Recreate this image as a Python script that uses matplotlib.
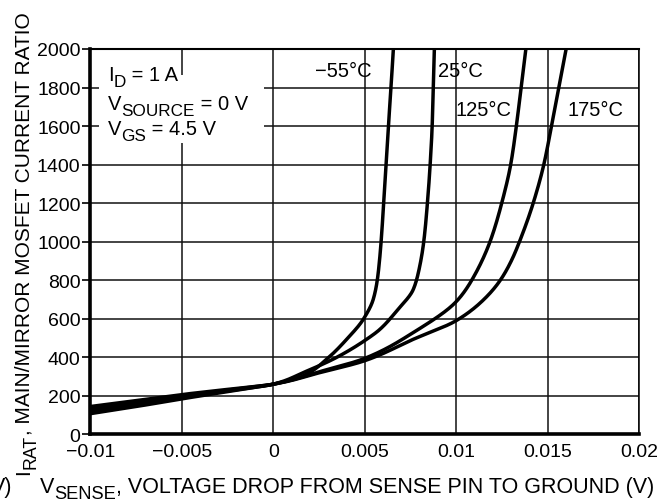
import matplotlib
matplotlib.use("Agg")
import numpy as np
import matplotlib.pyplot as plt
from matplotlib.patches import Rectangle
from matplotlib.transforms import IdentityTransform

plt.rcParams['font.family'] = ['Liberation Sans', 'DejaVu Sans']

# ---- data ----
x_m55 = [-0.01, -0.0075, -0.005, -0.0025, 0, 0.00164, 0.00292, 0.00401, 0.00492, 0.00546,
         0.00568, 0.0058, 0.00589, 0.00603, 0.00616, 0.00629, 0.00643, 0.00656]
y_m55 = [108, 145, 185, 222, 261, 304, 391, 494, 598, 701,
         800, 900, 1000, 1200, 1400, 1600, 1800, 2000]

x_25 = [-0.01, -0.0075, -0.005, -0.0025, 0, 0.00173, 0.00346, 0.0051, 0.00583, 0.00674,
        0.00765, 0.00795, 0.00822, 0.00842, 0.00857, 0.00868, 0.00874, 0.0088]
y_25 = [120, 155, 193, 226, 261, 325, 400, 494, 546, 641,
        753, 850, 1000, 1200, 1400, 1600, 1800, 2000]

x_125 = [-0.01, -0.0075, -0.005, -0.0025, 0, 0.0025, 0.005, 0.00765, 0.01, 0.01084,
         0.01184, 0.01248, 0.01297, 0.01328, 0.01354, 0.0138]
y_125 = [132, 166, 200, 230, 261, 325, 395, 529, 690, 800,
         1000, 1200, 1400, 1600, 1800, 2000]

x_175 = [-0.01, -0.0075, -0.005, -0.0025, 0, 0.0025, 0.005, 0.00765, 0.01, 0.0115,
         0.0124, 0.0130, 0.01345, 0.0142, 0.01478, 0.0152, 0.0156, 0.016]
y_175 = [145, 176, 207, 234, 261, 320, 383, 494, 591, 700,
         800, 900, 1000, 1200, 1400, 1600, 1800, 2000]

x_ticks = [-0.01, -0.005, 0, 0.005, 0.01, 0.015, 0.02]
x_ticklabels = ['\u22120.01', '\u22120.005', '0', '0.005', '0.01', '0.015', '0.02']
y_ticks = [0, 200, 400, 600, 800, 1000, 1200, 1400, 1600, 1800, 2000]

temp_labels = ['\u221255\u00b0C', '25\u00b0C', '125\u00b0C', '175\u00b0C']
temp_pos = [(0.0023, 1891), (0.0090, 1891), (0.00993, 1684), (0.0161, 1684)]

# conditions text: (main, subscript, rest)
cond_parts = [('I', 'D', ' = 1 A'), ('V', 'SOURCE', ' = 0 V'), ('V', 'GS', ' = 4.5 V')]
cond_baselines_px = [81, 110, 135]     # from top of the figure
xlabel_parts = ('V', 'SENSE', ', VOLTAGE DROP FROM SENSE PIN TO GROUND (V)')
ylabel_parts = ('I', 'RAT', ', MAIN/MIRROR MOSFET CURRENT RATIO')


def pchip(xk, yk, xq):
    """Monotone cubic (Fritsch-Carlson) evaluation, used only to render a smooth line."""
    xk = np.asarray(xk, float); yk = np.asarray(yk, float)
    h = np.diff(xk); delta = np.diff(yk) / h
    d = np.zeros_like(yk)
    for k in range(1, len(xk) - 1):
        if delta[k - 1] * delta[k] > 0:
            w1 = 2 * h[k] + h[k - 1]; w2 = h[k] + 2 * h[k - 1]
            d[k] = (w1 + w2) / (w1 / delta[k - 1] + w2 / delta[k])
    d[0] = delta[0]; d[-1] = delta[-1]
    idx = np.clip(np.searchsorted(xk, xq) - 1, 0, len(h) - 1)
    t = (xq - xk[idx]) / h[idx]
    h00 = 2 * t**3 - 3 * t**2 + 1; h10 = t**3 - 2 * t**2 + t
    h01 = -2 * t**3 + 3 * t**2; h11 = t**3 - t**2
    return h00 * yk[idx] + h10 * h[idx] * d[idx] + h01 * yk[idx + 1] + h11 * h[idx] * d[idx + 1]


# ---- figure ----
W, H = 663, 502
fig = plt.figure(figsize=(W / 100, H / 100), dpi=100)
ax = fig.add_axes([0.1362, 0.1325, 0.9643 - 0.1362, 0.9004 - 0.1325])

ax.set_xlim(-0.01, 0.02)
ax.set_ylim(0, 2000)
ax.set_xticks(x_ticks)
ax.set_xticklabels(x_ticklabels)
ax.set_yticks(y_ticks)
ax.tick_params(axis='both', labelsize=14, colors='black')
ax.tick_params(axis='x', length=0, pad=6)
ax.tick_params(axis='y', length=6, width=1.2, pad=1)

ax.grid(True, color='#111111', linewidth=1.1, zorder=1)
ax.set_axisbelow(True)
for s in ['left', 'bottom']:
    ax.spines[s].set_linewidth(2.6)
ax.spines['top'].set_linewidth(1.5)
ax.spines['right'].set_linewidth(1.1)

for xs, ys in [(x_m55, y_m55), (x_25, y_25), (x_125, y_125), (x_175, y_175)]:
    yy = np.linspace(ys[0], ys[-1], 800)
    xx = pchip(ys, xs, yy)
    ax.plot(xx, yy, color='black', linewidth=2.5, zorder=3)

# white box behind the conditions text
ax.add_patch(Rectangle((-0.0095, 1510), 0.0090, 355, facecolor='white', edgecolor='none', zorder=2))

for t, (xx, yy) in zip(temp_labels, temp_pos):
    ax.text(xx, yy, t, fontsize=14.5, ha='left', va='center', zorder=4)

renderer = fig.canvas.get_renderer()
ID = IdentityTransform()


def sub_text(x0, y0, parts, fs, sub_scale=0.85, sub_drop=0.3, rotation=0):
    """Write main + subscript + rest in pixel coordinates (origin bottom-left)."""
    main, sub, rest = parts
    x, y = x0, y0
    for s, size, drop in [(main, fs, 0.0), (sub, fs * sub_scale, fs * sub_drop * 100 / 72),
                          (rest, fs, 0.0)]:
        if rotation == 0:
            t = fig.text(x, y - drop, s, transform=ID, fontsize=size, ha='left', va='baseline',
                         zorder=5)
            x += t.get_window_extent(renderer).width
        else:
            t = fig.text(x + drop, y, s, transform=ID, fontsize=size, ha='left', va='baseline',
                         rotation=90, rotation_mode='anchor', zorder=5)
            y += t.get_window_extent(renderer).height


for parts, b in zip(cond_parts, cond_baselines_px):
    sub_text(108, H - b, parts, 14.5)

sub_text(40, H - 493, xlabel_parts, 15.5)
fig.text(12, H - 493, 'V)', transform=ID, fontsize=15.5, ha='right', va='baseline')
sub_text(29, H - 475, ylabel_parts, 15, rotation=90)

fig.savefig('out.png', dpi=100)
